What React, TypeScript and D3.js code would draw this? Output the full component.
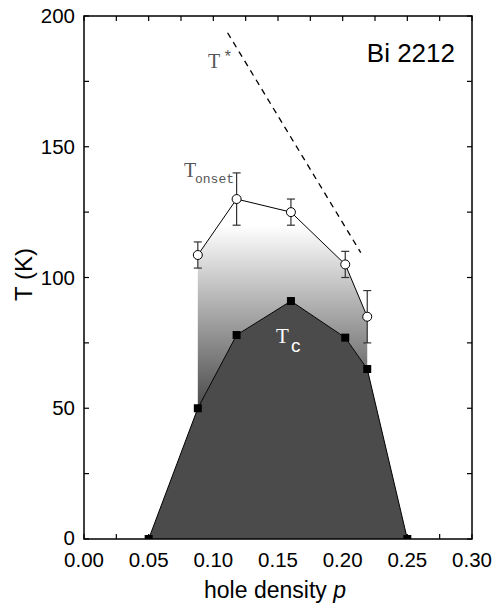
import React from "react";
import * as d3 from "d3";

// ---- data ----
const tonsetP = [0.088, 0.118, 0.16, 0.202, 0.219];
const tonsetT = [108.6, 130, 125, 105, 85];
const tonsetErr = [5, 10, 5, 5, 10];

const tcP = [0.05, 0.088, 0.118, 0.16, 0.202, 0.219, 0.25];
const tcT = [0, 50, 78, 91, 77, 65, 0];

const tStarP = [0.111, 0.214];
const tStarT = [193.6, 109.5];

const xTicks = [0, 0.05, 0.1, 0.15, 0.2, 0.25, 0.3];
const xTickLabels = ["0.00", "0.05", "0.10", "0.15", "0.20", "0.25", "0.30"];
const yTicks = [0, 50, 100, 150, 200];
const yTickLabels = ["0", "50", "100", "150", "200"];

const W = 501;
const H = 612;
const L = 84, R = 472, T = 16, B = 539;

export default function App() {
  const x = d3.scaleLinear().domain([0, 0.3]).range([L, R]);
  const y = d3.scaleLinear().domain([0, 200]).range([B, T]);

  const minorX = d3.range(0, 0.3001, 0.025);
  const minorY = d3.range(0, 200.01, 25);

  const tcPts: [number, number][] = tcP.map((p, i) => [p, tcT[i]]);
  const onsetPts: [number, number][] = tonsetP.map((p, i) => [p, tonsetT[i]]);

  const line = d3
    .line<[number, number]>()
    .x((d) => x(d[0]))
    .y((d) => y(d[1]));

  const lowerPts = tcPts.filter((d) => d[0] >= tonsetP[0] - 1e-9 && d[0] <= tonsetP[tonsetP.length - 1] + 1e-9);
  const gradPoly: [number, number][] = [...onsetPts, ...lowerPts.slice().reverse()];

  const tickLen = 5;
  const serif = "Liberation Serif, Times New Roman, serif";
  const mono = "Liberation Mono, Courier New, monospace";
  const sans = "Liberation Sans, Arial, sans-serif";

  return (
    <svg width={W} height={H} style={{ position: "absolute", left: 0, top: 0, background: "#fff" }}>
      <defs>
        <linearGradient id="grad" gradientUnits="userSpaceOnUse" x1={0} x2={0} y1={y(120)} y2={y(50)}>
          <stop offset="0" stopColor="#ffffff" />
          <stop offset="1" stopColor="#4a4a4a" />
        </linearGradient>
        <clipPath id="plot">
          <rect x={L} y={T} width={R - L} height={B - T} />
        </clipPath>
      </defs>

      <g stroke="#000" strokeWidth={1.2}>
        {minorX.map((v, i) => (
          <g key={"x" + i}>
            <line x1={x(v)} x2={x(v)} y1={B} y2={B - tickLen} />
            <line x1={x(v)} x2={x(v)} y1={T} y2={T + tickLen} />
          </g>
        ))}
        {minorY.map((v, i) => (
          <g key={"y" + i}>
            <line x1={L} x2={L + tickLen} y1={y(v)} y2={y(v)} />
            <line x1={R} x2={R - tickLen} y1={y(v)} y2={y(v)} />
          </g>
        ))}
      </g>

      <path d={line(gradPoly) + "Z"} fill="url(#grad)" stroke="none" />
      <path d={line(tcPts) + "Z"} fill="#4b4b4b" stroke="none" />

      <path
        d={line(tStarP.map((p, i) => [p, tStarT[i]]) as [number, number][]) || ""}
        stroke="#000"
        strokeWidth={1.3}
        strokeDasharray="6,5"
        fill="none"
      />

      <g clipPath="url(#plot)">
        <path d={line(tcPts) || ""} fill="none" stroke="#000" strokeWidth={1} />
        {tcPts.map((d, i) => (
          <rect key={"s" + i} x={x(d[0]) - 4} y={y(d[1]) - 4} width={8} height={8} fill="#000" />
        ))}
      </g>

      <path d={line(onsetPts) || ""} fill="none" stroke="#000" strokeWidth={1} />
      {onsetPts.map((d, i) => {
        const cx = x(d[0]);
        const top = y(d[1] + tonsetErr[i]);
        const bot = y(d[1] - tonsetErr[i]);
        return (
          <g key={"e" + i} stroke="#333" strokeWidth={1.2}>
            <line x1={cx} x2={cx} y1={top} y2={bot} />
            <line x1={cx - 4} x2={cx + 4} y1={top} y2={top} />
            <line x1={cx - 4} x2={cx + 4} y1={bot} y2={bot} />
          </g>
        );
      })}
      {onsetPts.map((d, i) => (
        <circle key={"c" + i} cx={x(d[0])} cy={y(d[1])} r={4.5} fill="#fff" stroke="#000" strokeWidth={1} />
      ))}

      <rect x={L} y={T} width={R - L} height={B - T} fill="none" stroke="#000" strokeWidth={1.5} />

      <g fontFamily={sans} fontSize={20.5} fill="#000">
        {xTicks.map((v, i) => (
          <text key={"xl" + i} x={x(v)} y={567} textAnchor="middle">
            {xTickLabels[i]}
          </text>
        ))}
        {yTicks.map((v, i) => (
          <text key={"yl" + i} x={75} y={y(v) + (i === 0 ? 6 : 7)} textAnchor="end">
            {yTickLabels[i]}
          </text>
        ))}
      </g>

      <text
        fontFamily={sans}
        fontSize={24}
        x={0}
        y={0}
        textAnchor="middle"
        transform={`translate(32, ${y(100) - 3}) rotate(-90)`}
      >
        T (K)
      </text>
      <text fontFamily={sans} fontSize={23} x={275} y={598} textAnchor="middle">
        hole density <tspan fontStyle="italic">p</tspan>
      </text>

      <text fontFamily={sans} fontSize={26} x={455} y={62} textAnchor="end">
        Bi 2212
      </text>
      <text fontFamily={serif} fontSize={20} fill="#555" x={208} y={68}>
        T
      </text>
      <text fontFamily={mono} fontSize={16} fill="#555" x={223} y={62}>
        *
      </text>
      <text fontFamily={serif} fontSize={20} fill="#555" x={184} y={177}>
        T
      </text>
      <text fontFamily={mono} fontSize={13} fill="#555" x={195} y={183}>
        onset
      </text>
      <text fontFamily={serif} fontSize={21} fill="#fff" x={276} y={343}>
        T
      </text>
      <text fontFamily={sans} fontSize={19} fill="#fff" x={291} y={352}>
        c
      </text>
    </svg>
  );
}
